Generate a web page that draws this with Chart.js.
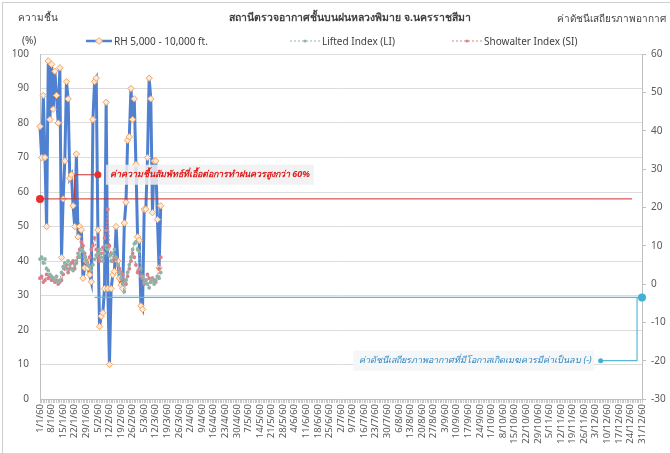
<!DOCTYPE html>
<html>
<head>
<meta charset="utf-8">
<script src="https://cdn.jsdelivr.net/npm/chart.js@4.4.1/dist/chart.umd.min.js"></script>
<style>
  body { margin: 0; background: #fff; font-family: "Noto Sans", "DejaVu Sans", sans-serif; }
  #wrap { position: relative; width: 670px; height: 453px; overflow: hidden; }
  #frame { position: absolute; left: 2px; top: 2px; width: 700px; height: 480px; border: 1px solid #cfcfcf; }
  canvas { position: absolute; left: 0; top: 0; }
  .t { position: absolute; white-space: nowrap; color: #404040; font-size: 10px; line-height: 12px; }
  .lg { position: absolute; top: 34px; white-space: nowrap; font-size: 10px; color: #404040; display: flex; align-items: center; }
  .lg svg { margin-right: 2px; }
</style>
</head>
<body>
<div id="wrap">
  <div id="frame"></div>
  <canvas id="chart" width="670" height="453"></canvas>
  <div class="t" style="left:18px;top:11px;">ความชื้น</div>
  <div class="t" style="left:22px;top:34px;">(%)</div>
  <div class="t" style="left:0;width:700px;text-align:center;top:11px;font-weight:bold;font-size:10.5px;">สถานีตรวจอากาศชั้นบนฝนหลวงพิมาย จ.นครราชสีมา</div>
  <div class="t" style="right:4px;top:12px;">ค่าดัชนีเสถียรภาพอากาศ</div>
  <div class="lg" style="left:86px;">
    <svg width="26" height="10"><line x1="0" y1="5" x2="26" y2="5" stroke="#4F81D0" stroke-width="2.5"/><path d="M13 1.5 L16.5 5 L13 8.5 L9.5 5 Z" fill="#FDE9D9" stroke="#F4A460" stroke-width="1"/></svg>RH 5,000 - 10,000 ft.
  </div>
  <div class="lg" style="left:290px;">
    <svg width="30" height="10"><line x1="0" y1="5" x2="30" y2="5" stroke="#8FB3A6" stroke-width="1.2" stroke-dasharray="2,2"/><circle cx="15" cy="5" r="1.5" fill="#8FB3A6"/></svg>Lifted Index (LI)
  </div>
  <div class="lg" style="left:452px;">
    <svg width="30" height="10"><line x1="0" y1="5" x2="30" y2="5" stroke="#D9808A" stroke-width="1.2" stroke-dasharray="2,2"/><circle cx="15" cy="5" r="1.5" fill="#D9808A"/></svg>Showalter Index (SI)
  </div>
</div>
<script>
// วันที่ 1/1/60 - 31/12/60
const monthDays = [31, 28, 31, 30, 31, 30, 31, 31, 30, 31, 30, 31];
const dates = [];
monthDays.forEach((n, m) => {
  for (let d = 1; d <= n; d++) dates.push(`${d}/${m + 1}/60`);
});

// RH 5,000 - 10,000 ft. (%) 1/1 - 15/3
const rh = [79, 70, 88, 70, 50, 98, 81, 97, 84, 95, 88, 80, 96, 41, 58, 69, 92, 87, 64, 65,
  56, 50, 71, 47, 50, 49, 35, 38, 40, 38, 36, 34, 81, 92, 93, 49, 21, 24, 25, 32,
  86, 32, 10, 32, 36, 37, 50, 40, 35, 33, 32, 51, 57, 75, 76, 90, 81, 87, 68, 47,
  46, 27, 26, 55, 55, 70, 93, 87, 54, 69, 69, 52, 38, 56];

// Lifted Index
const li = [6.5, 7, 5.5, 6.5, 4, 3.5, 2.5, 2, 1.5, 1, 2, 0.5, 1, 3, 4.5, 5.5, 4, 6, 5, 4,
  3.5, 5, 6, 8, 7, 9, 8.5, 7, 6, 5, 4.5, 3.5, 5, 6.5, 7.5, 8, 9, 7, 6, 8,
  10, 9, 7.5, 6, 8, 9, 7, 5, 3, 1.5, 0, -2, 1, 3, 5, 7, 9, 10.5, 11, 9,
  8.5, 4, 2, 0.5, 1, 0, -1, 0.5, 1.5, 0, 1, 2, 1.5, 3];

// Showalter Index
const si = [1.5, 2, 0.5, 1, 2.5, 1.5, 2, 1, 1.5, 0.5, 1, 0, 0.5, 1, 2.5, 4, 5, 3, 4, 5.5,
  6, 4, 5.5, 7, 9, 11, 10, 8, 6, 5, 7, 9, 10, 12, 9, 7, 6, 8, 9.5, 12,
  14, 19.5, 10, 8, 6, 7, 6.5, 5, 4, 3, 2.5, 1, 0, 2, 4, 6, 8, 7, 5, 3,
  4, 2, 1.5, 0, 1, 2.5, 1.5, 0.5, 1.5, 1, 0.5, 2, 4, 7];

// เส้นอ้างอิง (หน่วยข้อมูล: วันลำดับที่ / ค่าแกน)
const rhLine = { level: 58, fromDay: 0, toDay: 358 };
const rhNote = { fromDay: 21, toDay: 35, level: 65, text: "ค่าความชื้นสัมพัทธ์ที่เอื้อต่อการทำฝนควรสูงกว่า 60%" };
const idxLine = { level: -3.5, fromDay: 33, toDay: 364, bendDay: 361, downTo: -20, arrowDay: 339,
  text: "ค่าดัชนีเสถียรภาพอากาศที่มีโอกาสเกิดเมฆควรมีค่าเป็นลบ (-)" };

const notes = {
  id: "notes",
  afterDatasetsDraw(chart) {
    const c = chart.ctx, x = chart.scales.x, y = chart.scales.y, y2 = chart.scales.y2;
    c.save();
    // red threshold
    const ry = y.getPixelForValue(rhLine.level);
    c.strokeStyle = "#C9302C";
    c.lineWidth = 1;
    c.beginPath();
    c.moveTo(x.getPixelForValue(rhLine.fromDay), ry);
    c.lineTo(x.getPixelForValue(rhLine.toDay), ry);
    c.stroke();
    c.fillStyle = "#E8312F";
    c.beginPath();
    c.arc(x.getPixelForValue(rhLine.fromDay), ry, 4, 0, Math.PI * 2);
    c.fill();
    // red connector
    const ny = y.getPixelForValue(rhNote.level);
    const nx1 = x.getPixelForValue(rhNote.fromDay), nx2 = x.getPixelForValue(rhNote.toDay);
    c.strokeStyle = "#C9302C";
    c.beginPath();
    c.moveTo(nx1, ry); c.lineTo(nx1, ny); c.lineTo(nx2, ny);
    c.stroke();
    c.beginPath();
    c.arc(nx2, ny, 3.5, 0, Math.PI * 2);
    c.fill();
    c.font = "italic bold 9px 'Noto Sans', sans-serif";
    const tw = c.measureText(rhNote.text).width;
    c.fillStyle = "rgba(240,240,240,0.85)";
    c.fillRect(nx2 + 8, ny - 10, tw + 8, 20);
    c.fillStyle = "#E01B1B";
    c.textBaseline = "middle";
    c.fillText(rhNote.text, nx2 + 12, ny);

    // cyan index line
    const cy = y2.getPixelForValue(idxLine.level);
    const cy2 = y2.getPixelForValue(idxLine.downTo);
    const bx = x.getPixelForValue(idxLine.bendDay), ax = x.getPixelForValue(idxLine.arrowDay);
    c.strokeStyle = "#5BB8D4";
    c.lineWidth = 1.2;
    c.beginPath();
    c.moveTo(x.getPixelForValue(idxLine.fromDay), cy);
    c.lineTo(x.getPixelForValue(idxLine.toDay), cy);
    c.moveTo(bx, cy); c.lineTo(bx, cy2); c.lineTo(ax, cy2);
    c.stroke();
    c.fillStyle = "#3FB0D6";
    c.beginPath();
    c.arc(x.getPixelForValue(idxLine.toDay), cy, 4, 0, Math.PI * 2);
    c.fill();
    c.beginPath();
    c.arc(ax, cy2, 2.5, 0, Math.PI * 2);
    c.fill();
    c.font = "italic 9px 'Noto Sans', sans-serif";
    const tw2 = c.measureText(idxLine.text).width;
    c.fillStyle = "rgba(243,246,248,0.95)";
    c.fillRect(ax - 9 - tw2 - 6, cy2 - 10, tw2 + 8, 20);
    c.fillStyle = "#2E86C1";
    c.textAlign = "right";
    c.fillText(idxLine.text, ax - 9, cy2);
    c.restore();
  }
};

new Chart(document.getElementById("chart"), {
  type: "line",
  data: {
    labels: dates,
    datasets: [
      {
        label: "Lifted Index (LI)",
        data: li,
        yAxisID: "y2",
        borderColor: "#8FB3A6",
        borderWidth: 1.2,
        borderDash: [2, 2],
        pointRadius: 1.3,
        pointBackgroundColor: "#8FB3A6",
        pointBorderColor: "#8FB3A6",
        order: 1,
      },
      {
        label: "Showalter Index (SI)",
        data: si,
        yAxisID: "y2",
        borderColor: "#D9808A",
        borderWidth: 1.2,
        borderDash: [2, 2],
        pointRadius: 1.3,
        pointBackgroundColor: "#D9808A",
        pointBorderColor: "#D9808A",
        order: 1,
      },
      {
        label: "RH 5,000 - 10,000 ft.",
        data: rh,
        yAxisID: "y",
        borderColor: "#4F81D0",
        borderWidth: 3,
        pointStyle: "rectRot",
        pointRadius: 3.2,
        pointBackgroundColor: "#FDE9D9",
        pointBorderColor: "#F4A460",
        pointBorderWidth: 1,
        order: 3,
      },
    ],
  },
  options: {
    responsive: false,
    animation: false,
    layout: { padding: { top: 54, left: 0, right: 0, bottom: 0 } },
    plugins: { legend: { display: false }, tooltip: { enabled: false } },
    scales: {
      x: {
        type: "category",
        offset: false,
        afterFit: (s) => { s.height = 54; },
        grid: { drawOnChartArea: false, tickLength: 4, color: "#C8C8C8" },
        border: { color: "#BFBFBF" },
        ticks: {
          autoSkip: false,
          maxRotation: 90,
          minRotation: 90,
          padding: 1,
          color: "#595959",
          font: { size: 9.5, family: "'Noto Sans', sans-serif" },
          callback: (v, i) => (i % 7 === 0 ? dates[i] : ""),
        },
      },
      y: {
        position: "left",
        min: 0,
        max: 100,
        afterFit: (s) => { s.width = 40; },
        grid: { color: "#DCDCDC", drawTicks: false },
        border: { color: "#BFBFBF" },
        ticks: { stepSize: 10, padding: 11, color: "#595959", font: { size: 10, family: "'Noto Sans', sans-serif" } },
      },
      y2: {
        position: "right",
        min: -30,
        max: 60,
        afterFit: (s) => { s.width = 28; },
        grid: { drawOnChartArea: false, tickLength: 4, color: "#BFBFBF" },
        border: { color: "#BFBFBF" },
        ticks: { stepSize: 10, padding: 5, color: "#595959", font: { size: 10, family: "'Noto Sans', sans-serif" } },
      },
    },
  },
  plugins: [notes],
});
</script>
</body>
</html>
